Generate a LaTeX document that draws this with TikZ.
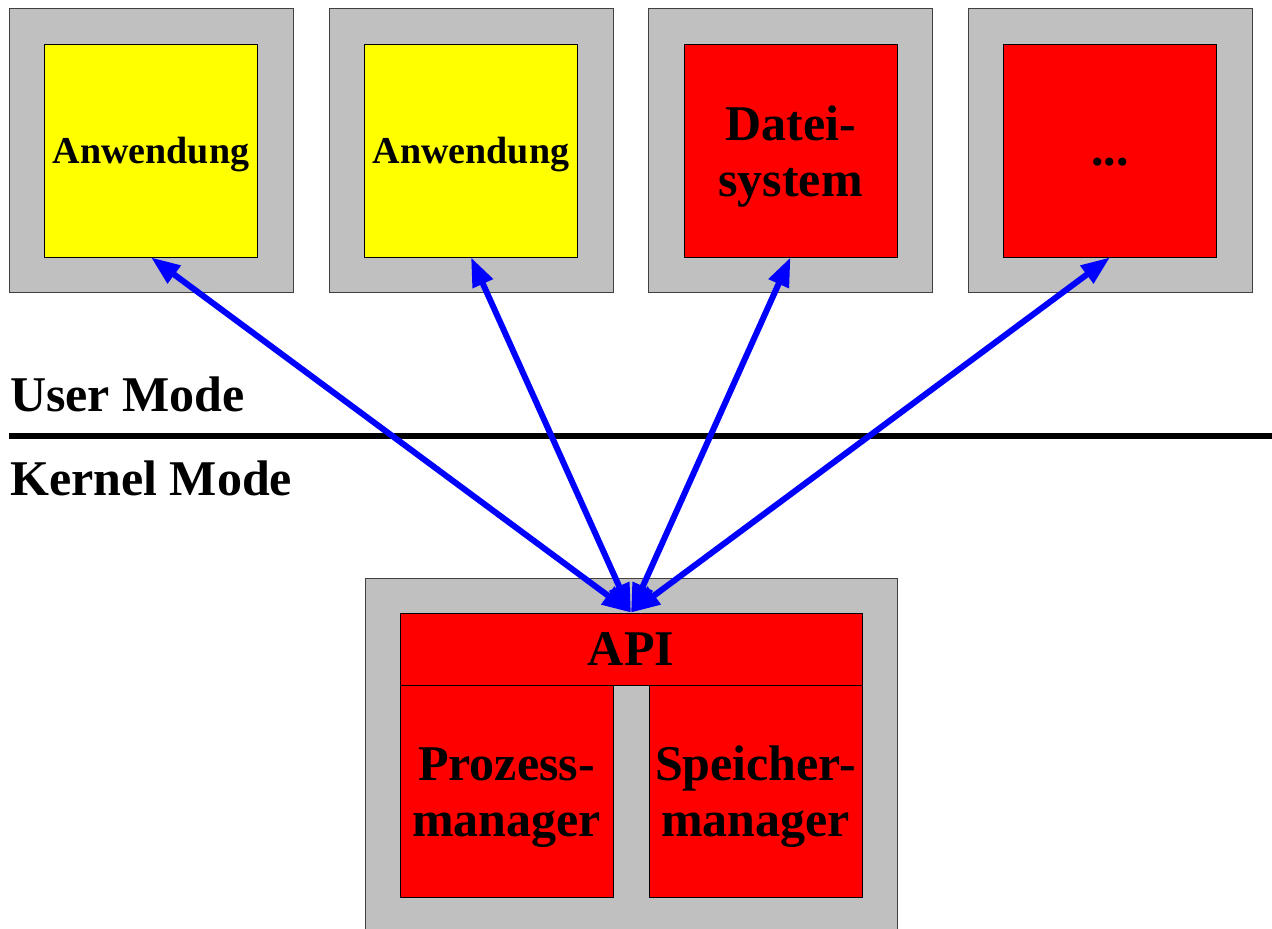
\documentclass[tikz,border=0pt]{standalone}
\usepackage{fontspec}
\setmainfont{Liberation Serif}
\usepackage{tikz}
\usetikzlibrary{positioning, arrows.meta}
\usepackage{xcolor}

\definecolor{boxgray}{RGB}{192,192,192}
\definecolor{appyellow}{RGB}{255,255,0}
\definecolor{sysred}{RGB}{255,0,0}
\definecolor{callblue}{RGB}{0,0,255}

% extra room above the first text line
\newcommand{\toppad}{\rule{0pt}{0.93em}}

\tikzset{
  frame/.style={draw=black!75, line width=0.9pt, fill=boxgray, inner sep=0pt},
  unit/.style={draw=black, line width=0.7pt, inner sep=0pt, align=center,
               font=\bfseries\fontsize{50}{56}\selectfont},
  apiarrow/.style={{Triangle[length=29pt,width=21pt]}-{Triangle[length=29pt,width=21pt]},
                   line width=6pt, callblue},
  modelabel/.style={anchor=base west, inner sep=0pt,
                    font=\bfseries\fontsize{50}{56}\selectfont}
}

\begin{document}
\begin{tikzpicture}[x=1pt, y=-1pt]

    \useasboundingbox (0,0) rectangle (1272,929);

    % User mode frames
    \node[frame, minimum size=284pt] (f1) at (151,150.5) {};
    \node[frame, minimum size=284pt] (f2) at (471,150.5) {};
    \node[frame, minimum size=284pt] (f3) at (790.5,150.5) {};
    \node[frame, minimum size=284pt] (f4) at (1110,150.5) {};

    % User mode components
    \node[unit, fill=appyellow, minimum size=213pt,
          font=\bfseries\fontsize{38}{44}\selectfont] (app1) at (f1) {\toppad Anwendung};
    \node[unit, fill=appyellow, minimum size=213pt,
          font=\bfseries\fontsize{38}{44}\selectfont] (app2) at (f2) {\toppad Anwendung};
    \node[unit, fill=sysred, minimum size=213pt] (fs) at (f3) {\toppad Datei-\\system};
    \node[unit, fill=sysred, minimum size=213pt] (more) at (f4) {\toppad\strut...};

    % Kernel frame (runs off the lower edge)
    \node[frame, minimum width=532pt, minimum height=362pt] (kernel) at (631,759) {};

    % Kernel components
    \node[unit, fill=sysred, minimum width=462pt, minimum height=72pt] (api) at (631,649) {API};
    \node[unit, fill=sysred, minimum width=213pt, minimum height=212pt] (pm) at (506.5,791) {\toppad Prozess-\\manager};
    \node[unit, fill=sysred, minimum width=213pt, minimum height=212pt] (mm) at (755.5,791) {\toppad Speicher-\\manager};

    % Mode boundary
    \coordinate (modeL) at (9,436);
    \coordinate (modeR) at (1272,436);
    \draw[line width=6.5pt] (modeL) -- (modeR);
    \node[modelabel] (user) at (10,411) {User Mode};
    \node[modelabel] (kern) at (10,495) {Kernel Mode};

    % System calls
    \draw[apiarrow] (api.north) -- (app1.south);
    \draw[apiarrow] (api.north) -- (app2.south);
    \draw[apiarrow] (api.north) -- (fs.south);
    \draw[apiarrow] (api.north) -- (more.south);

\end{tikzpicture}
\end{document}
